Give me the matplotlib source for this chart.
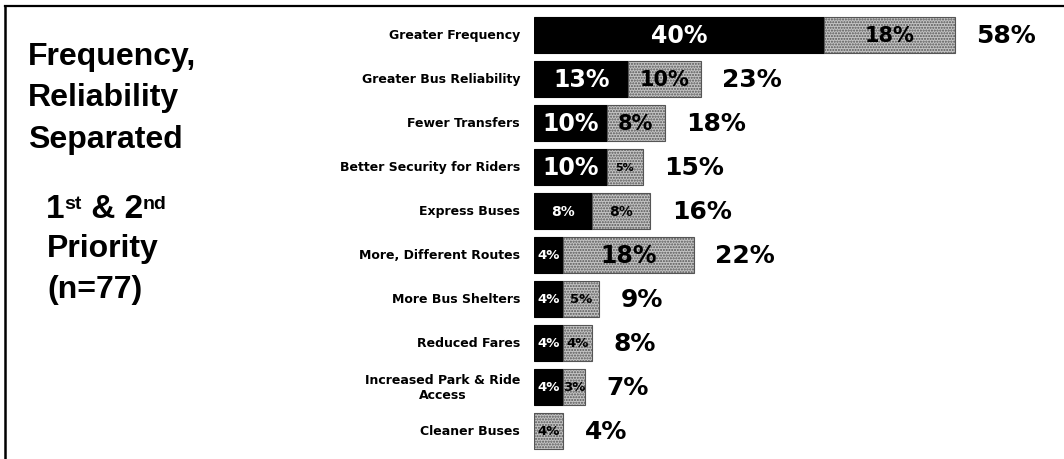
"""Frequency / reliability priorities: 1st + 2nd priority stacked bars."""
import matplotlib
matplotlib.use("Agg")
import matplotlib.pyplot as plt
from matplotlib.lines import Line2D

W, H = 1064, 460
PX_PER_PCT = 7.25

categories = ["Greater Frequency", "Greater Bus Reliability", "Fewer Transfers",
              "Better Security for Riders", "Express Buses", "More, Different Routes",
              "More Bus Shelters", "Reduced Fares", "Increased Park & Ride\nAccess",
              "Cleaner Buses"]
first = [40, 13, 10, 10, 8, 4, 4, 4, 4, 0]
second = [18, 10, 8, 5, 8, 18, 5, 4, 3, 4]
totals = [58, 23, 18, 15, 16, 22, 9, 8, 7, 4]

# label sizes as drawn in the original (not proportional to the value)
size_first = [17, 17, 17, 17, 10, 9.5, 9.5, 9.5, 9.5, 9.5]
size_second = [15, 15, 15, 8, 10, 17, 9.5, 9.5, 9.5, 9.5]

fig = plt.figure(figsize=(W / 100, H / 100), dpi=100)
renderer = fig.canvas.get_renderer()

# frame: top rule and left edge
fig.add_artist(Line2D([5 / W, 1], [1 - 7 / H, 1 - 7 / H], color="black", lw=1.6))
fig.add_artist(Line2D([5 / W, 5 / W], [0, 1 - 7 / H], color="black", lw=1.8))

side = dict(family="Liberation Sans", weight="bold", color="black")
for y, s in [(65, "Frequency,"), (106, "Reliability"), (148, "Separated")]:
    fig.text(28 / W, 1 - y / H, s, va="baseline", fontsize=23, **side)

# "1st & 2nd" with raised suffixes, piece by piece
x = 46
for s, size, rise in [("1", 24, 0), ("st", 14, 9), (" & 2", 24, 0), ("nd", 14, 9)]:
    t = fig.text(x / W, 1 - (218 - rise) / H, s, va="baseline", fontsize=size, **side)
    x += t.get_window_extent(renderer).width
for y, s in [(257, "Priority"), (298, "(n=77)")]:
    fig.text(47 / W, 1 - y / H, s, va="baseline", fontsize=23, **side)

ax = fig.add_axes([534 / W, 1 - 454 / H, (W - 534) / W, 440 / H])
ax.set_xlim(0, (W - 534) / PX_PER_PCT)
ax.set_ylim(len(categories) - 0.5, -0.5)
ax.axis("off")

rows = range(len(categories))
ax.barh(rows, first, height=0.84, color="black", edgecolor="black", lw=0.8)
ax.barh(rows, second, left=first, height=0.84, facecolor="#c4c4c4",
        edgecolor="#555555", hatch="......", lw=0.8)

num = dict(family="DejaVu Sans", weight="bold", va="center", ha="center")
for i in rows:
    ax.text(-14 / PX_PER_PCT, i, categories[i], ha="right", va="center",
            multialignment="center", family="DejaVu Sans", weight="bold",
            fontsize=9, clip_on=False)
    if first[i]:
        ax.text(first[i] / 2, i, f"{first[i]}%", color="white",
                fontsize=size_first[i], **num)
    ax.text(first[i] + second[i] / 2, i, f"{second[i]}%", color="black",
            fontsize=size_second[i], **num)
    ax.text(first[i] + second[i] + 3.0, i, f"{totals[i]}%", color="black",
            family="DejaVu Sans", weight="bold", fontsize=18, va="center", ha="left")

fig.savefig("out.png", dpi=100)
